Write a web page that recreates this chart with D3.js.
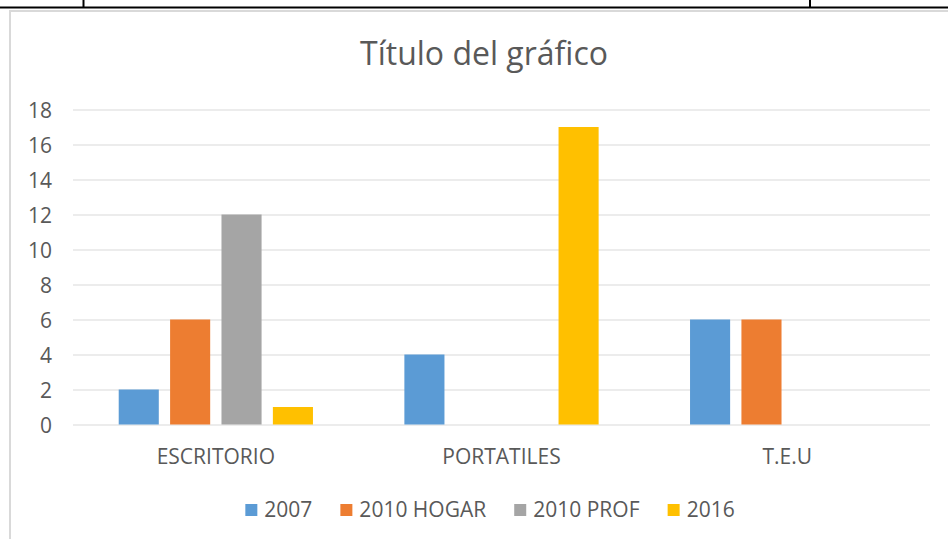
<!DOCTYPE html>
<html>
<head>
<meta charset="utf-8">
<script src="https://cdn.jsdelivr.net/npm/d3@7"></script>
<style>
    body { margin: 0; background: #fff; }
    text { font-family: "Open Sans", sans-serif; fill: #595959; }
</style>
</head>
<body>
<script>
var categories = ["ESCRITORIO", "PORTATILES", "T.E.U"];
var seriesNames = ["2007", "2010 HOGAR", "2010 PROF", "2016"];
var values2007 = [2, 4, 6];
var values2010Hogar = [6, 0, 6];
var values2010Prof = [12, 0, 0];
var values2016 = [1, 17, 0];
var yTicks = [0, 2, 4, 6, 8, 10, 12, 14, 16, 18];
var seriesColors = ["#5b9bd5", "#ed7d31", "#a5a5a5", "#ffc000"];

var width = 948, height = 539;
var plotLeft = 73, plotRight = 930, plotTop = 109.5, plotBottom = 424.5;
var labelSize = 21;

var svg = d3.select("body").append("svg").attr("width", width).attr("height", height);

// table border above the chart
svg.append("line").attr("x1", 0).attr("x2", width).attr("y1", 7.5).attr("y2", 7.5)
    .attr("stroke", "#000").attr("stroke-width", 2);
[83.5, 810].forEach(function (x) {
    svg.append("line").attr("x1", x).attr("x2", x).attr("y1", 0).attr("y2", 7)
        .attr("stroke", "#000").attr("stroke-width", 2);
});

// chart frame
svg.append("path").attr("d", "M10,539 V11 H" + width)
    .attr("fill", "none").attr("stroke", "#d9d9d9").attr("stroke-width", 2);

// scales
var x0 = d3.scaleBand().domain(categories).range([plotLeft, plotRight]).paddingInner(0.32).paddingOuter(0.16);
var x1 = d3.scaleBand().domain(seriesNames).range([0, x0.bandwidth()]).paddingInner(0.22);
var y = d3.scaleLinear().domain([0, 18]).range([plotBottom, plotTop]);

// gridlines
var grid = svg.append("g").attr("transform", "translate(" + plotLeft + ",0)")
    .call(d3.axisLeft(y).tickValues(yTicks).tickSize(-(plotRight - plotLeft)).tickFormat(""));
grid.select(".domain").remove();
grid.selectAll("line").attr("stroke", "#d9d9d9").attr("stroke-width", 1);

// y labels
var yAxis = svg.append("g").attr("transform", "translate(" + plotLeft + ",0)")
    .call(d3.axisLeft(y).tickValues(yTicks).tickSize(0).tickPadding(21));
yAxis.select(".domain").remove();
yAxis.attr("font-family", null);
yAxis.selectAll("text").attr("font-size", labelSize).attr("fill", "#595959").attr("dy", "0.36em");

// bars
var table = categories.map(function (c, i) {
    return [values2007[i], values2010Hogar[i], values2010Prof[i], values2016[i]];
});
var group = svg.selectAll("g.cat").data(table).enter().append("g").attr("class", "cat")
    .attr("transform", function (d, i) { return "translate(" + x0(categories[i]) + ",0)"; });
group.selectAll("rect").data(function (d) { return d; }).enter().append("rect")
    .attr("x", function (d, i) { return x1(seriesNames[i]); })
    .attr("y", function (d) { return y(d); })
    .attr("width", x1.bandwidth())
    .attr("height", function (d) { return y(0) - y(d); })
    .attr("fill", function (d, i) { return seriesColors[i]; });

// category labels
var xAxis = svg.append("g").attr("transform", "translate(0," + plotBottom + ")")
    .call(d3.axisBottom(x0).tickSize(0));
xAxis.select(".domain").remove();
xAxis.attr("font-family", null);
xAxis.selectAll("text").attr("font-size", labelSize).attr("fill", "#595959").attr("y", 39).attr("dy", null);

// title
svg.append("text").attr("x", 484).attr("y", 65).attr("text-anchor", "middle")
    .attr("font-size", 32).text("Título del gráfico");

// legend
var legend = svg.append("g");
var items = legend.selectAll("g").data(seriesNames).enter().append("g");
items.append("rect").attr("width", 12).attr("height", 12).attr("y", -12.5)
    .attr("fill", function (d, i) { return seriesColors[i]; });
items.append("text").attr("x", 19).attr("y", 0).attr("font-size", labelSize).text(String);
var lx = 0;
items.each(function () {
    d3.select(this).attr("transform", "translate(" + lx + ",0)");
    lx += this.getBBox().width + 28;
});
lx -= 28;
legend.attr("transform", "translate(" + (490 - lx / 2) + ",516.5)");
</script>
</body>
</html>
